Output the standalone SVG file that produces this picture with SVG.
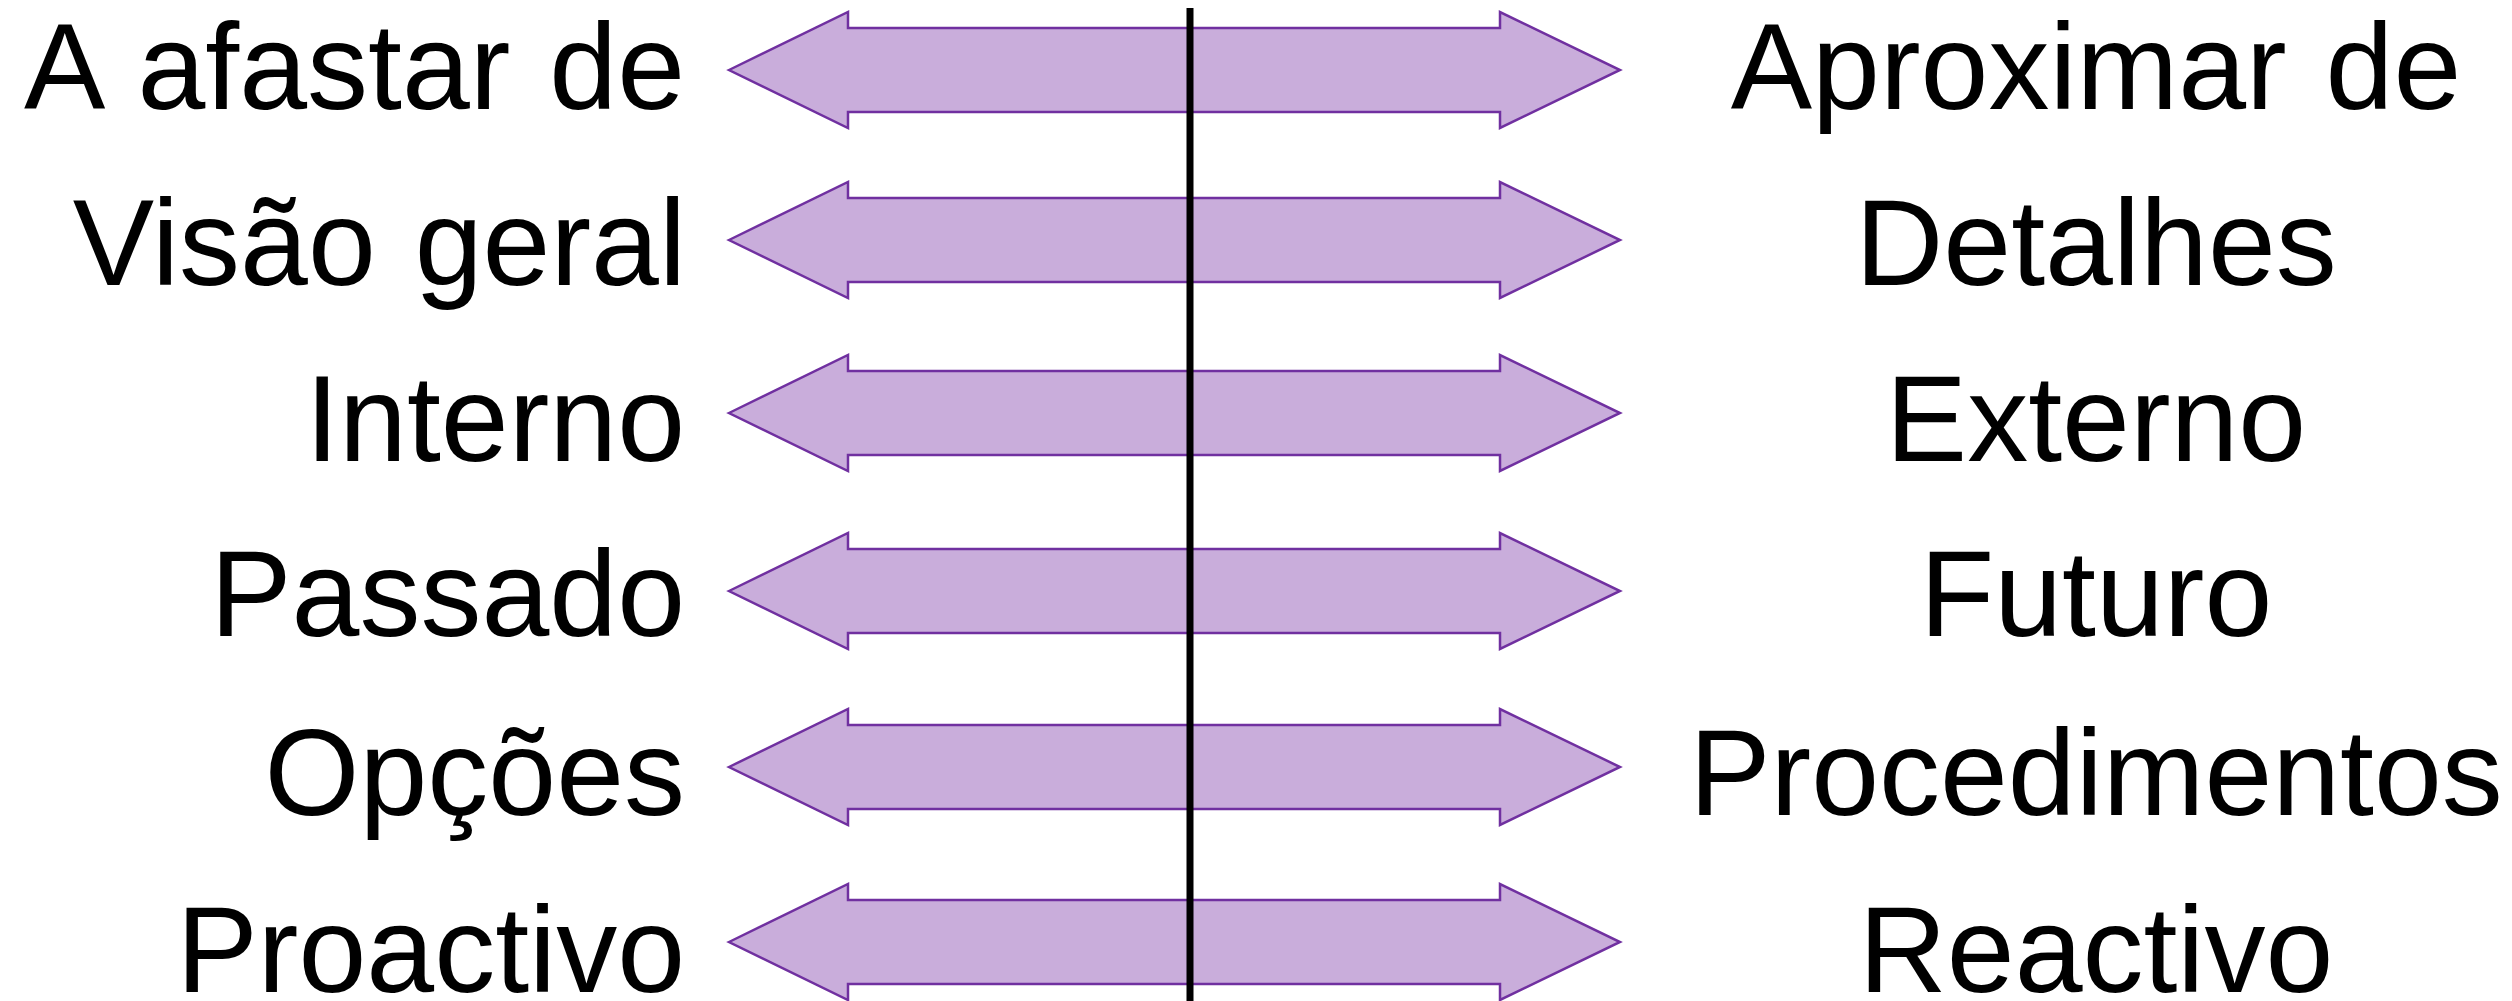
<svg xmlns="http://www.w3.org/2000/svg" xmlns:xlink="http://www.w3.org/1999/xlink" width="2512" height="1001" viewBox="0 0 2512 1001">
  <style>
    .lbl { font-family: "Liberation Sans", Arial, sans-serif; font-size: 122px; fill: #000000; word-spacing: 5px; }
    .left { text-anchor: end; }
    .right { text-anchor: middle; }
    .dbl { fill: #C9ADDB; stroke: #7030A0; stroke-width: 2.5; stroke-linejoin: miter; }
    .axis { stroke: #000000; stroke-width: 7; }
  </style>
  <defs>
    <!-- double-headed block arrow, centred vertically on y=0 -->
    <path id="dblArrow" class="dbl" d="M729,0 L848,-58 L848,-42 L1500,-42 L1500,-58 L1620,0 L1500,58 L1500,42 L848,42 L848,58 Z"/>
  </defs>
  <rect width="2512" height="1001" fill="#ffffff"/>

  <g id="connectors">
    <use xlink:href="#dblArrow" transform="translate(0,70)"/>
    <use xlink:href="#dblArrow" transform="translate(0,240)"/>
    <use xlink:href="#dblArrow" transform="translate(0,413)"/>
    <use xlink:href="#dblArrow" transform="translate(0,591)"/>
    <use xlink:href="#dblArrow" transform="translate(0,767)"/>
    <use xlink:href="#dblArrow" transform="translate(0,942)"/>
  </g>

  <g id="axis">
    <line class="axis" x1="1190" y1="8" x2="1190" y2="1001"/>
  </g>

  <g id="left-labels">
    <g id="l1"><text class="lbl left" x="685" y="109">A afastar de</text></g>
    <g id="l2"><text class="lbl left" x="686" y="285">Visão geral</text></g>
    <g id="l3"><text class="lbl left" x="685" y="461">Interno</text></g>
    <g id="l4"><text class="lbl left" x="685" y="636">Passado</text></g>
    <g id="l5"><text class="lbl left" x="685" y="815">Opções</text></g>
    <g id="l6"><text class="lbl left" x="685" y="992">Proactivo</text></g>
  </g>

  <g id="right-labels">
    <g id="r1"><text class="lbl right" x="2096" y="109">Aproximar de</text></g>
    <g id="r2"><text class="lbl right" x="2096" y="285">Detalhes</text></g>
    <g id="r3"><text class="lbl right" x="2096" y="461">Externo</text></g>
    <g id="r4"><text class="lbl right" x="2096" y="636">Futuro</text></g>
    <g id="r5"><text class="lbl right" x="2096" y="815">Procedimentos</text></g>
    <g id="r6"><text class="lbl right" x="2096" y="992">Reactivo</text></g>
  </g>
</svg>
